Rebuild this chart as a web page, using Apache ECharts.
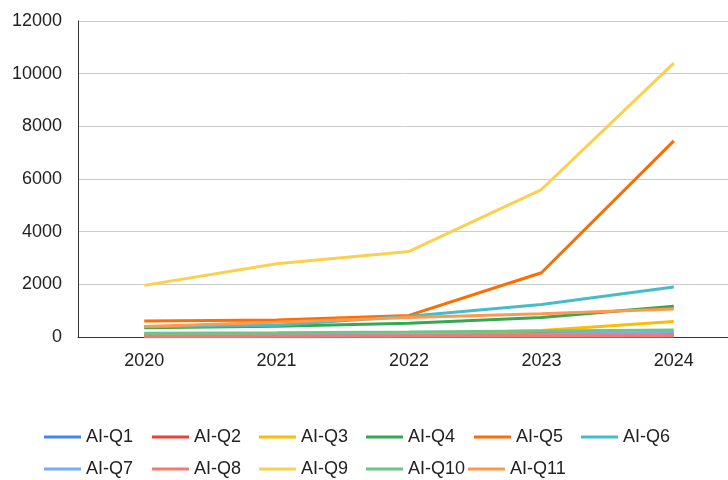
<!DOCTYPE html>
<html>
<head>
<meta charset="utf-8">
<script src="https://cdn.jsdelivr.net/npm/echarts@6/dist/echarts.min.js"></script>
<style>
html,body{margin:0;padding:0;background:#fff;}
#chart{width:728px;height:480px;}
</style>
</head>
<body>
<div id="chart"></div>
<script>
const categories = ['2020', '2021', '2022', '2023', '2024'];
const seriesNames = ['AI-Q1','AI-Q2','AI-Q3','AI-Q4','AI-Q5','AI-Q6','AI-Q7','AI-Q8','AI-Q9','AI-Q10','AI-Q11'];
const q1  = [5, 10, 15, 20, 25];
const q2  = [80, 90, 110, 140, 120];
const q3  = [60, 70, 110, 250, 590];
const q4  = [350, 410, 520, 740, 1165];
const q5  = [610, 650, 820, 2440, 7450];
const q6  = [390, 450, 790, 1230, 1900];
const q7  = [40, 50, 70, 110, 180];
const q8  = [30, 40, 50, 60, 60];
const q9  = [1960, 2780, 3250, 5600, 10400];
const q10 = [140, 160, 190, 230, 270];
const q11 = [400, 560, 740, 880, 1060];
const yTicks = [0, 2000, 4000, 6000, 8000, 10000, 12000];

const seriesValues = [q1,q2,q3,q4,q5,q6,q7,q8,q9,q10,q11];
const colors = ['#4285F4','#EA4335','#FBBC04','#34A853','#FF6D01','#46BDC6','#7BAAF7','#F07B72','#FCD04F','#71C287','#FF994D'];
const legendLeft = [44,152,259,366,474,581,44,152,259,366,468];
const legendTop  = [428,428,428,428,428,428,460,460,460,460,460];

const chart = echarts.init(document.getElementById('chart'), null, {renderer:'canvas'});
const font = 'Liberation Sans, Arial, sans-serif';
chart.setOption({
  animation: false,
  color: colors,
  textStyle: {fontFamily: font},
  grid: {left: 78, right: -12, top: 21, bottom: 143, outerBoundsMode: 'none', containLabel: false},
  legend: seriesNames.map((n, i) => ({
    data: [n],
    left: legendLeft[i],
    top: legendTop[i],
    padding: 0,
    itemWidth: 37,
    itemHeight: 3,
    icon: 'rect',
    textStyle: {fontSize: 18, color: '#222', fontFamily: font},
    selectedMode: false
  })),
  xAxis: {
    type: 'category',
    data: categories,
    boundaryGap: true,
    axisTick: {show: false},
    axisLine: {show: true, lineStyle: {color: '#333', width: 1}},
    axisLabel: {fontSize: 18, color: '#222', margin: 15, fontFamily: font}
  },
  yAxis: {
    type: 'value',
    min: yTicks[0],
    max: yTicks[yTicks.length - 1],
    interval: yTicks[1] - yTicks[0],
    axisLine: {show: true, lineStyle: {color: '#333', width: 1}},
    axisTick: {show: false},
    splitLine: {lineStyle: {color: '#ccc', width: 1}},
    axisLabel: {fontSize: 18, color: '#222', margin: 16, fontFamily: font, formatter: v => String(v)}
  },
  series: seriesNames.map((n, i) => ({
    name: n,
    type: 'line',
    data: seriesValues[i],
    symbol: 'none',
    showSymbol: false,
    lineStyle: {width: 3, color: colors[i]},
    itemStyle: {color: colors[i]}
  }))
});
</script>
</body>
</html>
